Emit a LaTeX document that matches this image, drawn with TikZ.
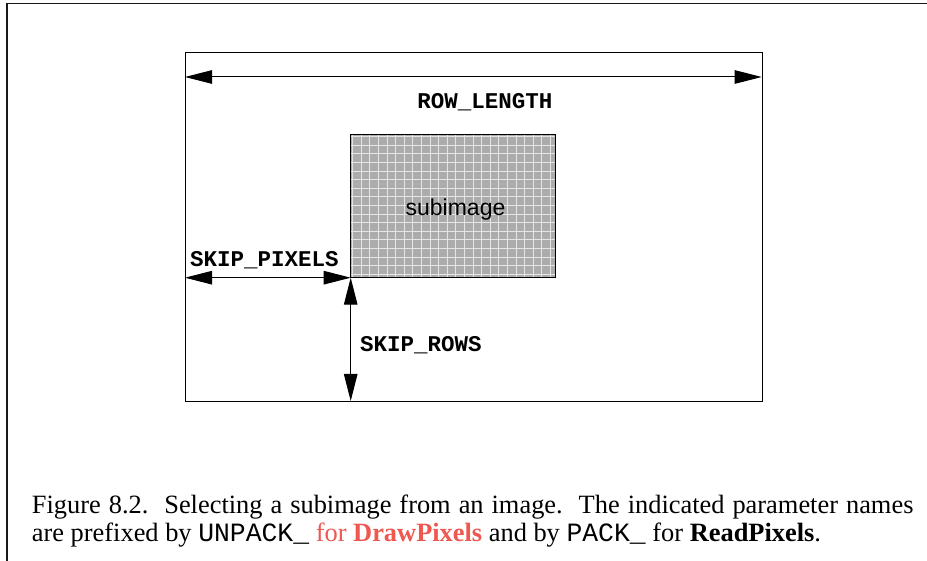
\documentclass[tikz,border=0pt]{standalone}
\usepackage{fontspec}
\setmainfont{Liberation Serif}
\setsansfont{Liberation Sans}
\setmonofont{Liberation Mono}
\usetikzlibrary{arrows.meta}
\definecolor{capred}{RGB}{238,88,80}
\definecolor{subfill}{RGB}{172,172,172}
\tikzset{
  frameline/.style={line width=1.1pt, black!90},
  boxline/.style={line width=1pt, black},
  dimarrow/.style={line width=1pt, {Triangle[length=27pt,width=13.5pt]}-{Triangle[length=27pt,width=13.5pt]}},
  monolabel/.style={inner sep=0pt, font=\fontsize{22.5}{26}\selectfont\ttfamily\bfseries},
  captext/.style={inner sep=0pt, anchor=base west, font=\fontsize{26.4}{28}\selectfont}
}
\begin{document}
\begin{tikzpicture}[x=1pt,y=-1pt]
\useasboundingbox (0,0) rectangle (927,561);
% outer frame (top and left only)
\coordinate (ftl) at (7,3.5);
\coordinate (ftr) at (927,3.5);
\coordinate (fbl) at (7,561);
\draw[frameline] (ftr) -- (ftl) -- (fbl);
% image box
\node[boxline, draw, inner sep=0pt, minimum width=576.7pt, minimum height=349.3pt, anchor=north west] (img) at (185,51.7) {};
% subimage
\node[fill=subfill, inner sep=0pt, minimum width=204.3pt, minimum height=143pt, anchor=north west] (sub) at (350.7,134.3) {};
\begin{scope}
\clip (sub.south west) rectangle (sub.north east);
\foreach \i in {0,...,24} {
  \draw[white!90!black, line width=0.7pt] (352.5+8.6*\i,134.3) -- (352.5+8.6*\i,277.3);
}
\foreach \j in {0,...,17} {
  \draw[white!90!black, line width=0.7pt] (350.7,136.5+8.6*\j) -- (555,136.5+8.6*\j);
}
\end{scope}
\draw[line width=0.8pt] (sub.south west) rectangle (sub.north east);
\node[inner sep=0pt, font=\fontsize{23}{26}\selectfont\sffamily, anchor=base] (sublabel) at (455.5,215.5) {subimage};
% ROW_LENGTH
\coordinate (rlA) at (185,77);
\coordinate (rlB) at (761.7,77);
\draw[dimarrow] (rlA) -- (rlB);
\node[monolabel, anchor=base] (rl) at (485,109) {ROW\_LENGTH};
% SKIP_PIXELS
\coordinate (spA) at (185,277.7);
\draw[dimarrow] (spA) -- (sub.south west);
\node[monolabel, anchor=base west] (sp) at (190,266.7) {SKIP\_PIXELS};
% SKIP_ROWS
\coordinate (srB) at (350.7,401);
\draw[dimarrow] (sub.south west) -- (srB);
\node[monolabel, anchor=base west] (sr) at (360,351.7) {SKIP\_ROWS};
% caption
\node[captext] (cap1) at (31.7,513.3) {\makebox[881.5pt][s]{Figure 8.2.\ \ Selecting a subimage from an image.\ \ The indicated parameter names}};
\node[captext] (cap2) at (31.7,541.3) {are prefixed by \texttt{UNPACK\_} \textcolor{capred}{for \textbf{DrawPixels}} and by \texttt{PACK\_} for \textbf{ReadPixels}.};
\end{tikzpicture}
\end{document}
